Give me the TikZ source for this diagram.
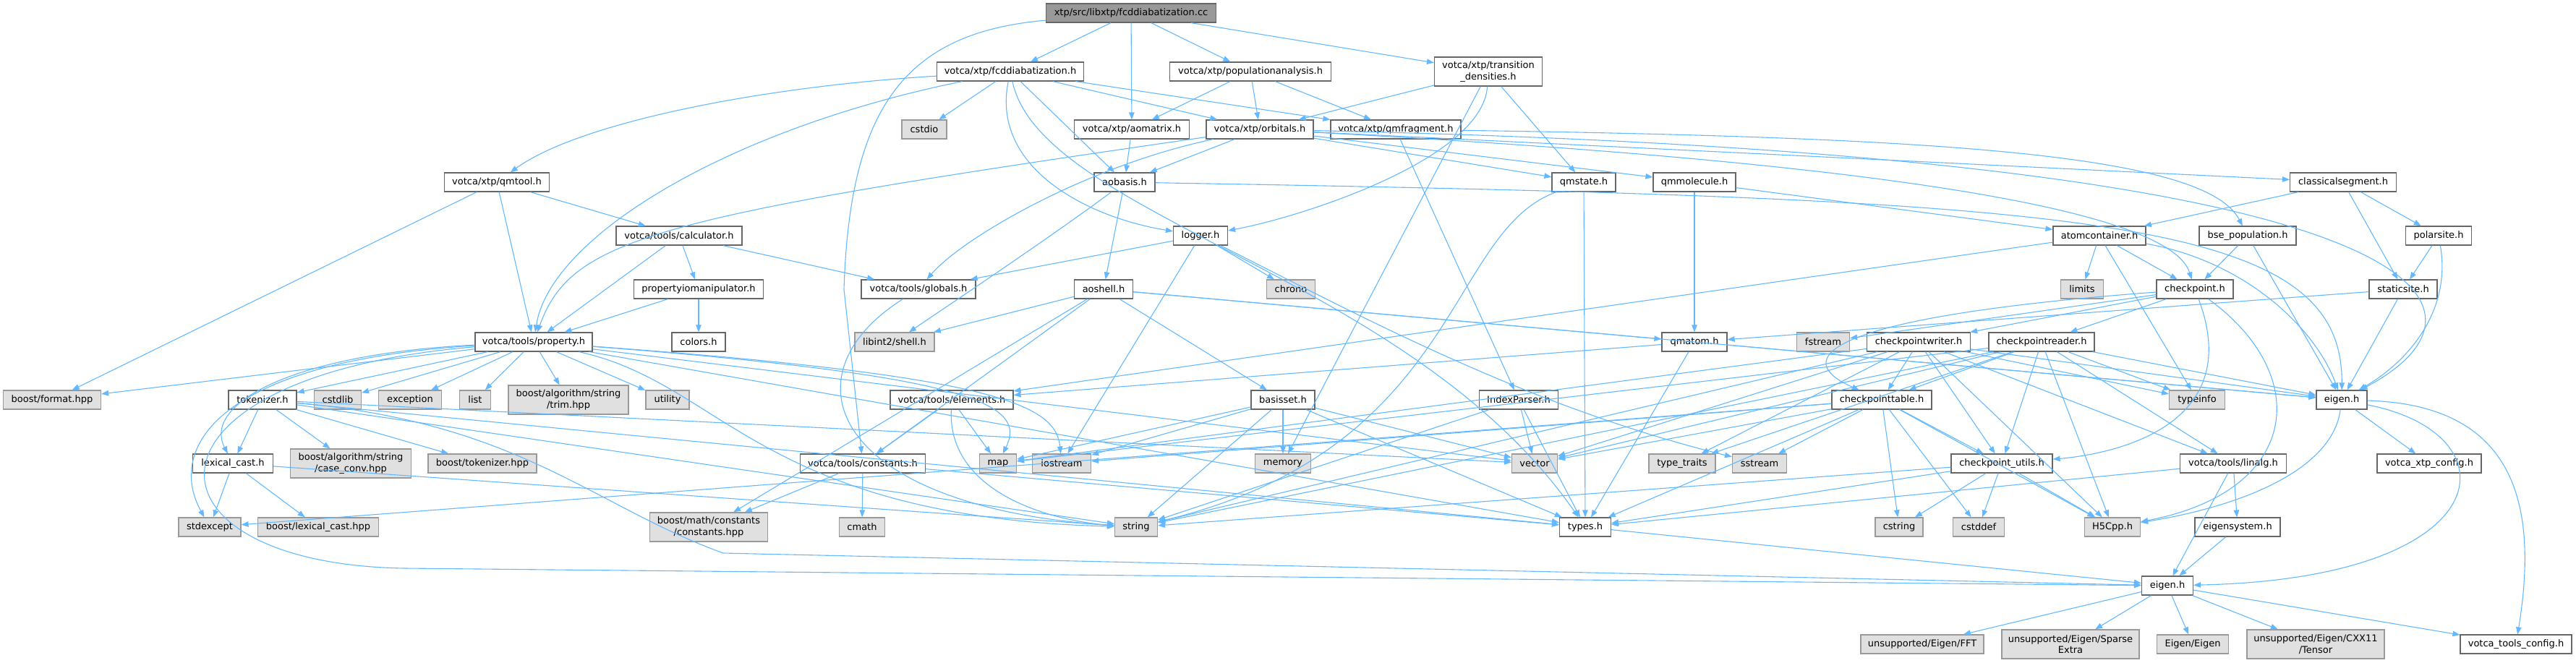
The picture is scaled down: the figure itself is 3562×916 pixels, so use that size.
\documentclass[tikz,border=0pt]{standalone}
\usepackage{fontspec}
\setmainfont{DejaVu Sans}
\usetikzlibrary{arrows.meta}
\definecolor{edgec}{HTML}{63B8FF}
\definecolor{ndborder}{HTML}{666666}
\definecolor{sysborder}{HTML}{999999}
\definecolor{sysfill}{HTML}{E0E0E0}
\definecolor{rootfill}{HTML}{999999}
\tikzset{
  nd/.style={draw=ndborder, fill=white, line width=1.2pt, minimum height=26pt, inner sep=0pt,
    font=\fontsize{13}{15.5}\selectfont, align=center},
  two/.style={minimum height=40pt},
  sys/.style={nd, draw=sysborder, fill=sysfill},
  rt/.style={nd, draw=ndborder, fill=rootfill},
  e/.style={draw=edgec, line width=1.1pt, -{Triangle[length=10pt,width=7.5pt]}},
}
\begin{document}
\begin{tikzpicture}[x=1pt,y=-1pt]
\useasboundingbox (0,0) rectangle (3562,916);
% row 0
\node[rt, minimum width=235pt] (cc) at (1564,18) {xtp/src/libxtp/fcddiabatization.cc};
% row 1
\node[nd, minimum width=203pt] (fcdh) at (1397,99) {votca/xtp/fcddiabatization.h};
\node[nd, minimum width=223pt] (popan) at (1729,99) {votca/xtp/populationanalysis.h};
\node[nd, two, minimum width=149pt] (transd) at (2058,99) {votca/xtp/transition\\\_densities.h};
% row 2
\node[sys, minimum width=62pt] (cstdio) at (1278,179) {cstdio};
\node[nd, minimum width=159pt] (aomatrix) at (1565,179) {votca/xtp/aomatrix.h};
\node[nd, minimum width=148pt] (orbitals) at (1742,179) {votca/xtp/orbitals.h};
\node[nd, minimum width=180pt] (qmfragment) at (1930,179) {votca/xtp/qmfragment.h};
% row 3
\node[nd, minimum width=145pt] (qmtool) at (687,252) {votca/xtp/qmtool.h};
\node[nd, minimum width=84pt] (aobasis) at (1555,252) {aobasis.h};
\node[nd, minimum width=88pt] (qmstate) at (2190,252) {qmstate.h};
\node[nd, minimum width=114pt] (qmmolecule) at (2343,252) {qmmolecule.h};
\node[nd, minimum width=147pt] (classseg) at (3240,252) {classicalsegment.h};
% row 4
\node[nd, minimum width=174pt] (calculator) at (939,326) {votca/tools/calculator.h};
\node[nd, minimum width=75pt] (logger) at (1660,326) {logger.h};
\node[nd, minimum width=128pt] (atomcont) at (2903,326) {atomcontainer.h};
\node[nd, minimum width=134pt] (bsepop) at (3108,326) {bse\_population.h};
\node[nd, minimum width=91pt] (polarsite) at (3372,326) {polarsite.h};
% row 5
\node[nd, minimum width=179pt] (propio) at (966,400) {propertyiomanipulator.h};
\node[nd, minimum width=158pt] (globals) at (1270,400) {votca/tools/globals.h};
\node[nd, minimum width=81pt] (aoshell) at (1526,400) {aoshell.h};
\node[sys, minimum width=67pt] (chrono) at (1785,400) {chrono};
\node[sys, minimum width=59pt] (limits) at (2879,400) {limits};
\node[nd, minimum width=106pt] (checkpoint) at (3035,400) {checkpoint.h};
\node[nd, minimum width=94pt] (staticsite) at (3323,400) {staticsite.h};
% row 6
\node[nd, minimum width=162pt] (property) at (738,473) {votca/tools/property.h};
\node[nd, minimum width=74pt] (colors) at (966,473) {colors.h};
\node[sys, minimum width=110pt] (libint) at (1237,473) {libint2/shell.h};
\node[nd, minimum width=90pt] (qmatom) at (2343,473) {qmatom.h};
\node[sys, minimum width=73pt] (fstream) at (2521,473) {fstream};
\node[nd, minimum width=143pt] (cpwriter) at (2653,473) {checkpointwriter.h};
\node[nd, minimum width=146pt] (cpreader) at (2823,473) {checkpointreader.h};
% row 7
\node[sys, minimum width=135pt] (bformat) at (72,553) {boost/format.hpp};
\node[nd, minimum width=94pt] (tokenizer) at (363,553) {tokenizer.h};
\node[sys, minimum width=65pt] (cstdlib) at (467,553) {cstdlib};
\node[sys, minimum width=87pt] (exception) at (567,553) {exception};
\node[sys, minimum width=43pt] (listh) at (657,553) {list};
\node[sys, two, minimum width=166pt] (trim) at (786,553) {boost/algorithm/string\\/trim.hpp};
\node[sys, minimum width=60pt] (utility) at (923,553) {utility};
\node[nd, minimum width=170pt] (elements) at (1316,553) {votca/tools/elements.h};
\node[nd, minimum width=88pt] (basisset) at (1774,553) {basisset.h};
\node[nd, minimum width=109pt] (indexparser) at (2100,553) {IndexParser.h};
\node[nd, minimum width=138pt] (cptable) at (2602,553) {checkpointtable.h};
\node[sys, minimum width=77pt] (typeinfo) at (3038,553) {typeinfo};
\node[nd, minimum width=70pt] (eigenx) at (3238,553) {eigen.h};
% row 8
\node[nd, minimum width=111pt] (lexcast) at (322,641) {lexical\_cast.h};
\node[sys, two, minimum width=167pt] (caseconv) at (485,641) {boost/algorithm/string\\/case\_conv.hpp};
\node[sys, minimum width=150pt] (btok) at (667,641) {boost/tokenizer.hpp};
\node[nd, minimum width=173pt] (constants) at (1193,641) {votca/tools/constants.h};
\node[sys, minimum width=51pt] (map) at (1380,641) {map};
\node[sys, minimum width=81pt] (iostream) at (1468,641) {iostream};
\node[sys, minimum width=77pt] (memory) at (1774,641) {memory};
\node[sys, minimum width=63pt] (vector) at (2122,641) {vector};
\node[sys, minimum width=92pt] (typetraits) at (2326,641) {type\_traits};
\node[sys, minimum width=75pt] (sstream) at (2433,641) {sstream};
\node[nd, minimum width=140pt] (cputils) at (2768,641) {checkpoint\_utils.h};
\node[nd, minimum width=147pt] (linalg) at (3088,641) {votca/tools/linalg.h};
\node[nd, minimum width=144pt] (xtpconfig) at (3359,641) {votca\_xtp\_config.h};
% row 9
\node[sys, minimum width=86pt] (stdexcept) at (290,729) {stdexcept};
\node[sys, minimum width=167pt] (blexcast) at (440,729) {boost/lexical\_cast.hpp};
\node[sys, two, minimum width=163pt] (bmath) at (980,729) {boost/math/constants\\/constants.hpp};
\node[sys, minimum width=63pt] (cmath) at (1192,729) {cmath};
\node[sys, minimum width=59pt] (string) at (1571,729) {string};
\node[nd, minimum width=71pt] (types) at (2192,729) {types.h};
\node[sys, minimum width=66pt] (cstring) at (2626,729) {cstring};
\node[sys, minimum width=71pt] (cstddef) at (2736,729) {cstddef};
\node[sys, minimum width=77pt] (h5cpp) at (2921,729) {H5Cpp.h};
\node[nd, minimum width=118pt] (eigensystem) at (3094,729) {eigensystem.h};
% row 10
\node[nd, minimum width=71pt] (eigent) at (2997,810) {eigen.h};
% row 11
\node[sys, minimum width=170pt] (fft) at (2658,891) {unsupported/Eigen/FFT};
\node[sys, two, minimum width=190pt] (sparse) at (2863,891) {unsupported/Eigen/Sparse\\Extra};
\node[sys, minimum width=99pt] (eigeneigen) at (3032,891) {Eigen/Eigen};
\node[sys, two, minimum width=190pt] (tensor) at (3202,891) {unsupported/Eigen/CXX11\\/Tensor};
\node[nd, minimum width=154pt] (toolsconfig) at (3479,891) {votca\_tools\_config.h};

% ---------- edges ----------
% cc
\draw[e] (cc) -- (fcdh);
\draw[e] (cc) -- (aomatrix);
\draw[e] (cc) -- (popan);
\draw[e] (cc) -- (transd);
\draw[e] (cc) .. controls (1250,45) and (1175,150) .. (1167,400) -- (constants);
% fcddiabatization.h
\draw[e] (fcdh) .. controls (1050,120) and (800,170) .. (qmtool);
\draw[e] (fcdh) .. controls (1000,180) and (760,330) .. (property);
\draw[e] (fcdh) -- (cstdio);
\draw[e] (fcdh) .. controls (1370,230) and (1500,300) .. (logger);
\draw[e] (fcdh) .. controls (1440,300) and (1950,380) .. (types);
\draw[e] (fcdh) -- (aobasis);
\draw[e] (fcdh) -- (orbitals);
\draw[e] (fcdh) -- (qmfragment);
% populationanalysis
\draw[e] (popan) -- (aomatrix);
\draw[e] (popan) -- (orbitals);
\draw[e] (popan) -- (qmfragment);
% transition densities
\draw[e] (transd) -- (orbitals);
\draw[e] (transd) .. controls (2050,220) and (1800,300) .. (logger);
\draw[e] (transd) -- (memory);
\draw[e] (transd) -- (qmstate);
% aomatrix
\draw[e] (aomatrix) -- (aobasis);
% orbitals
\draw[e] (orbitals) .. controls (900,300) and (790,330) .. (property);
\draw[e] (orbitals) .. controls (1500,230) and (1330,330) .. (globals);
\draw[e] (orbitals) -- (aobasis);
\draw[e] (orbitals) -- (qmstate);
\draw[e] (orbitals) -- (qmmolecule);
\draw[e] (orbitals) .. controls (2600,225) and (3000,290) .. (checkpoint);
\draw[e] (orbitals) -- (classseg);
\draw[e] (orbitals) .. controls (3420,215) and (3470,430) .. (eigenx);
% qmfragment
\draw[e] (qmfragment) -- (indexparser);
\draw[e] (qmfragment) .. controls (2700,190) and (3050,215) .. (bsepop);
% qmtool
\draw[e] (qmtool) -- (property);
\draw[e] (qmtool) -- (bformat);
\draw[e] (qmtool) -- (calculator);
% aobasis
\draw[e] (aobasis) .. controls (1450,330) and (1300,430) .. (libint);
\draw[e] (aobasis) -- (aoshell);
\draw[e] (aobasis) .. controls (2900,275) and (3240,300) .. (eigenx);
% qmstate
\draw[e] (qmstate) -- (types);
\draw[e] (qmstate) .. controls (2000,320) and (2020,620) .. (string);
% qmmolecule
\draw[e] (qmmolecule) -- (qmatom);
\draw[e] (qmmolecule) -- (atomcont);
% classicalsegment
\draw[e] (classseg) -- (atomcont);
\draw[e] (classseg) -- (polarsite);
\draw[e] (classseg) -- (staticsite);
% calculator
\draw[e] (calculator) -- (propio);
\draw[e] (calculator) -- (globals);
\draw[e] (calculator) -- (property);
% logger
\draw[e] (logger) -- (globals);
\draw[e] (logger) -- (iostream);
\draw[e] (logger) .. controls (1850,420) and (2100,560) .. (sstream);
\draw[e] (logger) -- (chrono);
% atomcontainer
\draw[e] (atomcont) -- (limits);
\draw[e] (atomcont) -- (checkpoint);
\draw[e] (atomcont) -- (typeinfo);
\draw[e] (atomcont) .. controls (3100,360) and (3200,450) .. (eigenx);
\draw[e] (atomcont) -- (elements);
% bse_population
\draw[e] (bsepop) -- (checkpoint);
\draw[e] (bsepop) -- (eigenx);
% polarsite
\draw[e] (polarsite) -- (staticsite);
\draw[e] (polarsite) .. controls (3390,430) and (3330,500) .. (eigenx);
% propertyiomanipulator
\draw[e] (propio) -- (property);
\draw[e] (propio) -- (colors);
% globals
\draw[e] (globals) .. controls (1080,520) and (1150,700) .. (string);
% aoshell
\draw[e] (aoshell) -- (libint);
\draw[e] (aoshell) -- (bmath);
\draw[e] (aoshell) -- (constants);
\draw[e] (aoshell) -- (basisset);
\draw[e] (aoshell) -- (eigenx);
\draw[e] (aoshell) -- (qmatom);
% checkpoint
\draw[e] (checkpoint) -- (cpwriter);
\draw[e] (checkpoint) -- (cpreader);
\draw[e] (checkpoint) -- (fstream);
\draw[e] (checkpoint) .. controls (2500,440) and (2480,500) .. (cptable);
\draw[e] (checkpoint) .. controls (3110,600) and (2900,630) .. (cputils);
\draw[e] (checkpoint) .. controls (3200,520) and (3180,680) .. (h5cpp);
% staticsite
\draw[e] (staticsite) -- (qmatom);
\draw[e] (staticsite) -- (eigenx);
% property
\draw[e] (property) -- (bformat);
\draw[e] (property) -- (tokenizer);
\draw[e] (property) -- (cstdlib);
\draw[e] (property) -- (exception);
\draw[e] (property) -- (listh);
\draw[e] (property) -- (trim);
\draw[e] (property) -- (utility);
\draw[e] (property) .. controls (400,490) and (280,560) .. (lexcast);
\draw[e] (property) .. controls (300,500) and (230,620) .. (stdexcept);
\draw[e] (property) .. controls (170,520) and (180,780) .. (560,786) -- (eigent);
\draw[e] (property) .. controls (1350,520) and (1420,560) .. (map);
\draw[e] (property) .. controls (1380,520) and (1460,560) .. (iostream);
\draw[e] (property) .. controls (1000,530) and (1050,715) .. (string);
\draw[e] (property) -- (vector);
\draw[e] (property) -- (types);
% qmatom
\draw[e] (qmatom) -- (elements);
\draw[e] (qmatom) -- (types);
\draw[e] (qmatom) -- (eigenx);
% checkpointwriter
\draw[e] (cpwriter) -- (map);
\draw[e] (cpwriter) -- (string);
\draw[e] (cpwriter) -- (typetraits);
\draw[e] (cpwriter) -- (typeinfo);
\draw[e] (cpwriter) -- (vector);
\draw[e] (cpwriter) -- (h5cpp);
\draw[e] (cpwriter) -- (linalg);
\draw[e] (cpwriter) -- (cputils);
\draw[e] (cpwriter) -- (cptable);
\draw[e] (cpwriter) -- (eigenx);
% checkpointreader
\draw[e] (cpreader) -- (map);
\draw[e] (cpreader) -- (string);
\draw[e] (cpreader) -- (typetraits);
\draw[e] (cpreader) -- (typeinfo);
\draw[e] (cpreader) -- (vector);
\draw[e] (cpreader) -- (h5cpp);
\draw[e] (cpreader) -- (linalg);
\draw[e] (cpreader) -- (cputils);
\draw[e] (cpreader) -- (cptable);
\draw[e] (cpreader) -- (eigenx);
% tokenizer
\draw[e] (tokenizer) -- (lexcast);
\draw[e] (tokenizer) -- (caseconv);
\draw[e] (tokenizer) -- (btok);
\draw[e] (tokenizer) -- (string);
\draw[e] (tokenizer) -- (vector);
\draw[e] (tokenizer) -- (types);
\draw[e] (tokenizer) .. controls (720,585) and (820,700) .. (1000,765) -- (eigent);
% elements
\draw[e] (elements) -- (constants);
\draw[e] (elements) -- (map);
\draw[e] (elements) .. controls (1310,680) and (1450,720) .. (string);
% basisset
\draw[e] (basisset) -- (map);
\draw[e] (basisset) -- (iostream);
\draw[e] (basisset) -- (memory);
\draw[e] (basisset) -- (string);
\draw[e] (basisset) -- (vector);
\draw[e] (basisset) -- (types);
% IndexParser
\draw[e] (indexparser) -- (vector);
\draw[e] (indexparser) -- (types);
\draw[e] (indexparser) -- (string);
% checkpointtable
\draw[e] (cptable) -- (iostream);
\draw[e] (cptable) -- (vector);
\draw[e] (cptable) -- (sstream);
\draw[e] (cptable) -- (stdexcept);
\draw[e] (cptable) -- (types);
\draw[e] (cptable) -- (cstring);
\draw[e] (cptable) -- (cstddef);
\draw[e] (cptable) -- (cputils);
\draw[e] (cptable) -- (h5cpp);
% lexical_cast
\draw[e] (lexcast) -- (stdexcept);
\draw[e] (lexcast) -- (blexcast);
\draw[e] (lexcast) -- (string);
% constants
\draw[e] (constants) -- (bmath);
\draw[e] (constants) -- (cmath);
\draw[e] (constants) -- (types);
% checkpoint_utils
\draw[e] (cputils) -- (cstring);
\draw[e] (cputils) -- (cstddef);
\draw[e] (cputils) -- (h5cpp);
\draw[e] (cputils) -- (types);
\draw[e] (cputils) -- (string);
% linalg
\draw[e] (linalg) -- (eigent);
\draw[e] (linalg) -- (eigensystem);
\draw[e] (linalg) -- (types);
% xtp eigen.h
\draw[e] (eigenx) -- (xtpconfig);
\draw[e] (eigenx) .. controls (3480,600) and (3460,800) .. (eigent);
\draw[e] (eigenx) .. controls (3225,650) and (3100,700) .. (h5cpp);
\draw[e] (eigenx) .. controls (3480,560) and (3510,700) .. (toolsconfig);
% types, eigensystem
\draw[e] (types) -- (eigent);
\draw[e] (eigensystem) -- (eigent);
% tools eigen.h
\draw[e] (eigent) -- (fft);
\draw[e] (eigent) -- (sparse);
\draw[e] (eigent) -- (eigeneigen);
\draw[e] (eigent) -- (tensor);
\draw[e] (eigent) -- (toolsconfig);
\end{tikzpicture}
\end{document}
